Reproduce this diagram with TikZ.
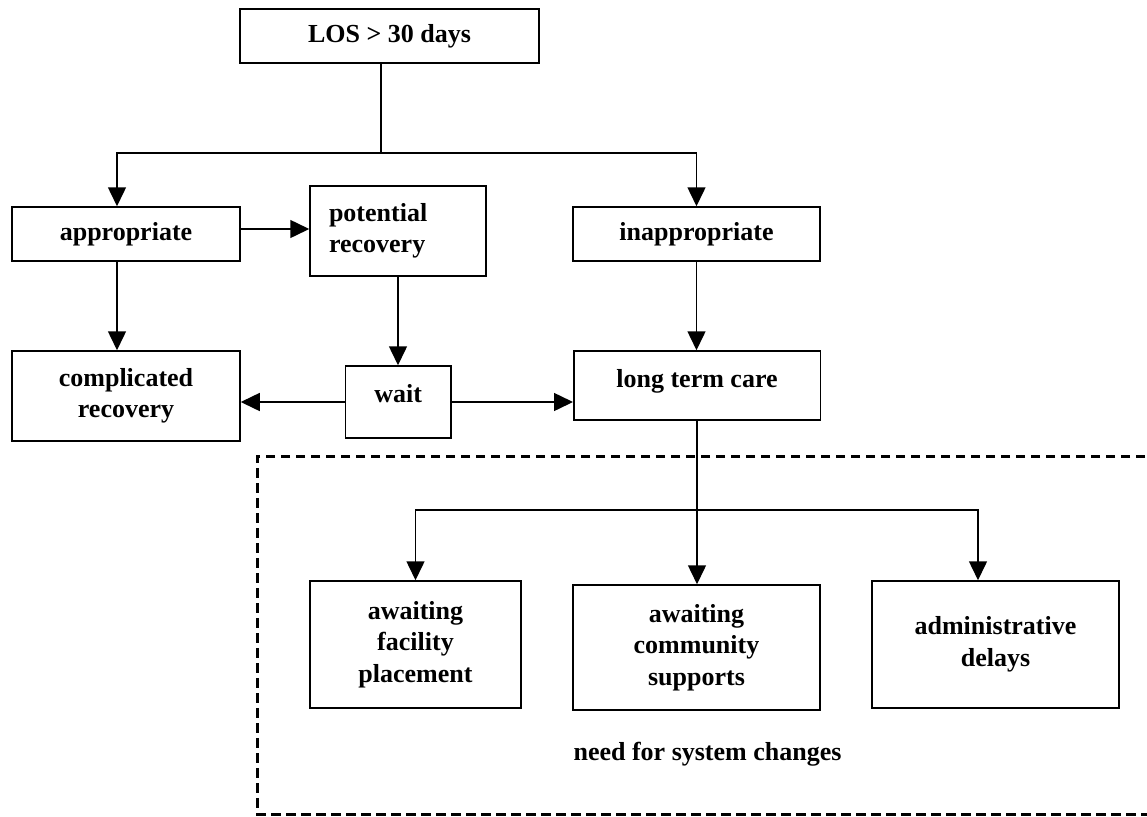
\documentclass[tikz,border=0pt]{standalone}
\usepackage{fontspec}
\setmainfont{Liberation Serif}
\usetikzlibrary{arrows.meta}
\begin{document}
\begin{tikzpicture}[x=1pt,y=-1pt,
  box/.style={draw,line width=1.5pt,inner sep=0pt,align=center,
    font=\fontsize{26}{31.5}\selectfont\bfseries},
  arr/.style={line width=1.5pt,-{Triangle[length=19pt,width=18pt]}},
  conn/.style={line width=1.5pt},
  dashbox/.style={line width=3pt,dash pattern=on 9.5pt off 5.5pt}]
\useasboundingbox (0,0) rectangle (1147,816);

% nodes
\node[box,minimum width=299pt,minimum height=54pt] (los) at (389.5,36) {LOS > 30 days};
\node[box,minimum width=228pt,minimum height=54pt] (app) at (126,234) {appropriate};
\node[box,minimum width=176pt,minimum height=90pt,text width=138pt,inner xsep=19pt,align=left] (pot) at (398,231) {potential\\recovery};
\node[box,minimum width=247pt,minimum height=54pt] (inapp) at (696.5,234) {inappropriate};
\node[box,minimum width=228pt,minimum height=90pt] (comp) at (126,396) {complicated\\recovery};
\node[box,minimum width=105.4pt,minimum height=72pt,text depth=18pt] (wait) at (398.3,402) {wait};
\node[box,minimum width=246.5pt,minimum height=69pt,text depth=14pt] (ltc) at (697,385.5) {long term care};
\node[box,minimum width=211pt,minimum height=127pt] (afp) at (415.5,644.5) {awaiting\\facility\\placement};
\node[box,minimum width=247pt,minimum height=125pt] (acs) at (696.5,647.5) {awaiting\\community\\supports};
\node[box,minimum width=247pt,minimum height=127pt] (ad) at (995.5,644.5) {administrative\\delays};
\node[font=\fontsize{26}{31.5}\selectfont\bfseries,anchor=base,inner sep=0pt] (need) at (707.5,760) {need for system changes};

% dashed region
\draw[dashbox] (1160,456) -- (257,456) -- (257,814) -- (1160,814);

% junctions
\coordinate (jt) at (381,153);
\coordinate (jl) at (117,153);
\coordinate (jb) at (697,510);
\coordinate (jr) at (978,510);

% connectors
\draw[conn] (los.south -| jt) -- (jt);
\draw[arr] (jt) -- (jl) -- (app.north -| jl);
\draw[arr] (jt) -| (inapp.north);
\draw[arr] ([yshift=5pt]app.east) -- ([yshift=5pt]app.east -| pot.west);
\draw[arr] (app.south -| jl) -- (comp.north -| jl);
\draw[arr] (pot.south) -- (pot.south |- wait.north);
\draw[arr] (wait.west) -- (wait.west -| comp.east);
\draw[arr] (wait.east) -- (wait.east -| ltc.west);
\draw[arr] (inapp.south) -- (inapp.south |- ltc.north);
\draw[conn] (ltc.south) -- (jb);
\draw[arr] (jb) -| (afp.north);
\draw[arr] (jb) -- (jb |- acs.north);
\draw[arr] (jb) -- (jr) -- (jr |- ad.north);
\end{tikzpicture}
\end{document}
